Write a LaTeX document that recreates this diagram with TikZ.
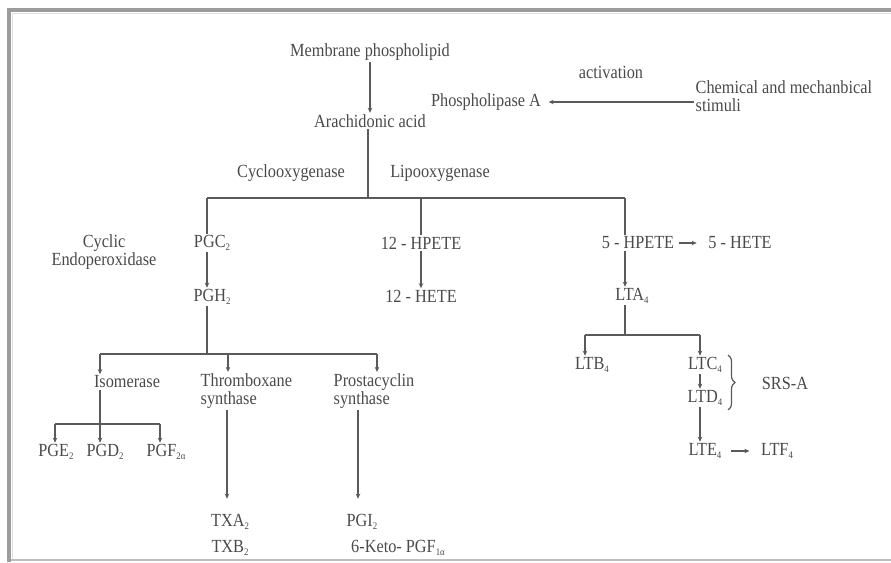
\documentclass[tikz,border=0pt]{standalone}
\usepackage{fontspec}
\setmainfont{Liberation Serif}
\usetikzlibrary{arrows.meta,decorations.pathreplacing}
\definecolor{txtc}{HTML}{4A4A4A}
\definecolor{linec}{HTML}{5A5A5A}
\definecolor{framec}{HTML}{9C9C9C}
\newcommand{\lsub}[1]{\raisebox{-0.35ex}{\fontsize{10}{10}\selectfont #1}}
\newcommand{\tx}[1]{\scalebox{0.88}[1]{#1}}
\begin{document}
\begin{tikzpicture}[x=1pt,y=-1pt,
  lbl/.style={inner sep=1.5pt, text=txtc, font=\fontsize{18.5}{18.5}\selectfont},
  two/.style={lbl, font=\fontsize{18.5}{18}\selectfont},
  ln/.style={draw=linec, line width=1.2pt},
  arr/.style={ln, -{Stealth[length=5pt,width=4.5pt]}}]
\useasboundingbox (0,0) rectangle (891,562);
% frame
\fill[framec] (7,8) rectangle (11,562);
\fill[framec] (7,8) rectangle (891,12);
\draw[black!12, line width=1pt] (12,13) -- (891,13);
\draw[black!12, line width=1pt] (12,13) -- (12,559);
\draw[black!25, line width=1.5pt] (11,560) -- (891,560);
% top part
\node[lbl] (mem) at (370,52) {\tx{Membrane phospholipid}};
\node[lbl] (ara) at (370,121) {\tx{Arachidonic acid}};
\node[lbl] (pla) at (486,102) {\tx{Phospholipase A}};
\node[lbl] (act) at (611,72) {\tx{activation}};
\node[two, anchor=west, align=left] (stim) at (694,96) {\tx{Chemical and mechanbical}\\\tx{stimuli}};
\draw[arr] (mem.south) -- (ara.north);
\draw[arr] (stim.west |- pla.east) -- ([xshift=6pt]pla.east);
% first branching
\node[lbl] (cyc) at (291,173) {\tx{Cyclooxygenase}};
\node[lbl] (lip) at (440,173) {\tx{Lipooxygenase}};
\coordinate (j0) at (368,198);
\coordinate (j1) at (207,198);
\coordinate (j2) at (421,198);
\coordinate (j3) at (625,198);
\draw[ln] (ara.south -| j0) -- (j0);
\draw[ln] (j1) -- (j3);
\node[lbl] (pgc) at (212,243) {\tx{PGC\lsub{2}}};
\node[lbl] (hp12) at (421,243) {\tx{12 - HPETE}};
\node[lbl] (hp5) at (638,243) {\tx{5 - HPETE}};
\node[lbl] (he5) at (740,243) {\tx{5 - HETE}};
\node[two, align=center] (endo) at (104,252) {\tx{Cyclic}\\\tx{Endoperoxidase}};
\draw[ln] (j1) -- (pgc.north -| j1);
\draw[ln] (j2) -- (hp12.north -| j2);
\draw[ln] (j3) -- (hp5.north -| j3);
\draw[arr] ([xshift=3pt]hp5.east) -- ([xshift=-10pt]he5.west);
\node[lbl] (pgh) at (212,297) {\tx{PGH\lsub{2}}};
\node[lbl] (he12) at (421,296) {\tx{12 - HETE}};
\node[lbl] (lta) at (632,296) {\tx{LTA\lsub{4}}};
\draw[arr] (pgc.south -| j1) -- (pgh.north -| j1);
\draw[arr] (hp12.south -| j2) -- (he12.north -| j2);
\draw[arr] (hp5.south -| j3) -- (lta.north -| j3);
% prostaglandin branch
\coordinate (k0) at (207,354);
\coordinate (k1) at (100,354);
\coordinate (k2) at (228,354);
\coordinate (k3) at (377,354);
\draw[ln] (pgh.south -| k0) -- (k0);
\draw[ln] (k1) -- (k3);
\node[lbl] (iso) at (127,382) {\tx{Isomerase}};
\node[two, anchor=west, align=left] (thr) at (199,391) {\tx{Thromboxane}\\\tx{synthase}};
\node[two, anchor=west, align=left] (pro) at (332,391) {\tx{Prostacyclin}\\\tx{synthase}};
\draw[arr] (k1) -- (iso.north -| k1);
\draw[arr] (k2) -- (thr.north -| k2);
\draw[arr] (k3) -- (pro.north -| k3);
\coordinate (m0) at (100,424);
\coordinate (m1) at (55,424);
\coordinate (m2) at (100,424);
\coordinate (m3) at (160,424);
\draw[ln] (iso.south -| m0) -- (m0);
\draw[ln] (m1) -- (m3);
\node[lbl] (pge) at (56,452) {\tx{PGE\lsub{2}}};
\node[lbl] (pgd) at (105,452) {\tx{PGD\lsub{2}}};
\node[lbl] (pgf) at (166,452) {\tx{PGF\lsub{2α}}};
\draw[arr] (m1) -- (pge.north -| m1);
\draw[arr] (m2) -- (pgd.north -| m2);
\draw[arr] (m3) -- (pgf.north -| m3);
\node[lbl] (txa) at (230,522) {\tx{TXA\lsub{2}}};
\node[lbl] (txb) at (230,548) {\tx{TXB\lsub{2}}};
\node[lbl] (pgi) at (362,522) {\tx{PGI\lsub{2}}};
\node[lbl] (keto) at (398,548) {\tx{6-Keto- PGF\lsub{1α}}};
\coordinate (t0) at (227,0);
\coordinate (p0) at (358,0);
\draw[arr] (thr.south -| t0) -- ([yshift=14pt]txa.north -| t0);
\draw[arr] (pro.south -| p0) -- ([yshift=14pt]pgi.north -| p0);
% leukotriene branch
\coordinate (n0) at (625,335);
\coordinate (n1) at (585,335);
\coordinate (n2) at (700,335);
\draw[ln] (lta.south -| n0) -- (n0);
\draw[ln] (n1) -- (n2);
\node[lbl] (ltb) at (592,365) {\tx{LTB\lsub{4}}};
\node[lbl] (ltc) at (705,365) {\tx{LTC\lsub{4}}};
\node[lbl] (ltd) at (705,398) {\tx{LTD\lsub{4}}};
\node[lbl] (lte) at (705,451) {\tx{LTE\lsub{4}}};
\node[lbl] (ltf) at (777,451) {\tx{LTF\lsub{4}}};
\draw[arr] (n1) -- (ltb.north -| n1);
\draw[arr] (n2) -- (ltc.north -| n2);
\draw[arr] (ltc.south -| n2) -- (ltd.north -| n2);
\draw[arr] (ltd.south -| n2) -- (lte.north -| n2);
\draw[arr] ([xshift=8pt]lte.east) -- ([xshift=-10pt]ltf.west);
\coordinate (b1) at (728,355);
\coordinate (b2) at (728,410);
\draw[ln, decorate, decoration={brace, amplitude=7pt}] (b1) -- (b2);
\node[lbl] (srs) at (785,383) {\tx{SRS-A}};
\end{tikzpicture}
\end{document}
